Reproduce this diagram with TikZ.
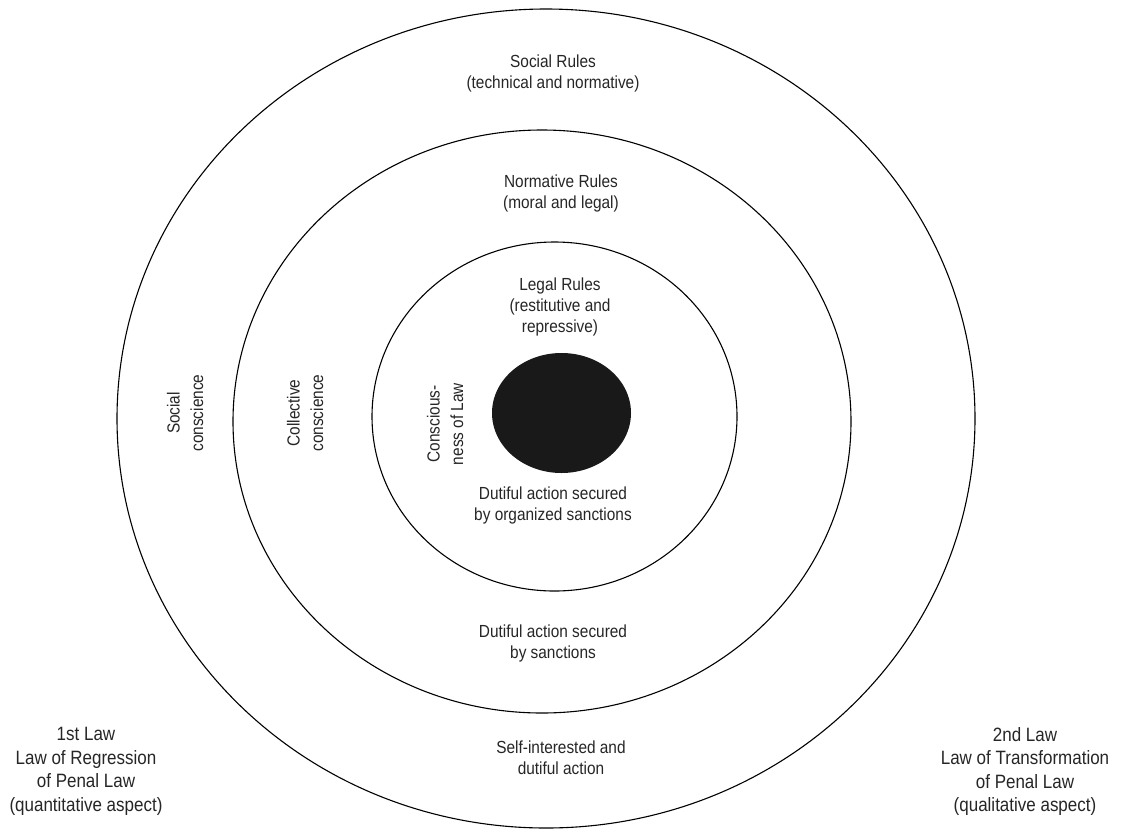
\documentclass[tikz,border=0pt]{standalone}
\usepackage{fontspec}
\setmainfont{Liberation Sans}[FakeStretch=0.88]
\begin{document}
\begin{tikzpicture}[x=1pt,y=-1pt,
  ring/.style={draw=black, line width=1.1pt},
  lbl/.style={align=center, inner sep=0pt, text=black!85, font=\fontsize{17.5}{21}\selectfont},
  rotlbl/.style={lbl, rotate=90, font=\fontsize{17.5}{23.5}\selectfont},
  corner/.style={align=center, inner sep=0pt, text=black!85, font=\fontsize{19.3}{23.5}\selectfont}]
\useasboundingbox (0,0) rectangle (1122,831);
\fill[white] (0,0) rectangle (1122,831);
% rings
\draw[ring] (546,418.5) ellipse [x radius=429, y radius=409.5];
\draw[ring] (542,421.5) ellipse [x radius=309, y radius=291.5];
\draw[ring] (554.5,416.5) ellipse [x radius=182.5, y radius=174.5];
\fill[black!90] (561.5,413) ellipse [x radius=69.5, y radius=60];
% labels
\node[lbl] (social) at (553,73) {Social Rules\\(technical and normative)};
\node[lbl] (normative) at (561,193) {Normative Rules\\(moral and legal)};
\node[lbl] (legal) at (560,307) {Legal Rules\\(restitutive and\\repressive)};
\node[lbl] (org) at (553,505) {Dutiful action secured\\by organized sanctions};
\node[lbl] (sanc) at (553,643) {Dutiful action secured\\by sanctions};
\node[lbl] (self) at (561,758) {Self-interested and\\dutiful action};
\node[rotlbl] (socc) at (185,413) {Social\\conscience};
\node[rotlbl] (collc) at (305,413) {Collective\\conscience};
\node[rotlbl] (consc) at (445,424) {Conscious-\\ness of Law};
\node[corner] (first) at (86,771.5) {1st Law\\Law of Regression\\of Penal Law\\(quantitative aspect)};
\node[corner] (second) at (1025,771.5) {2nd Law\\Law of Transformation\\of Penal Law\\(qualitative aspect)};
\end{tikzpicture}
\end{document}
